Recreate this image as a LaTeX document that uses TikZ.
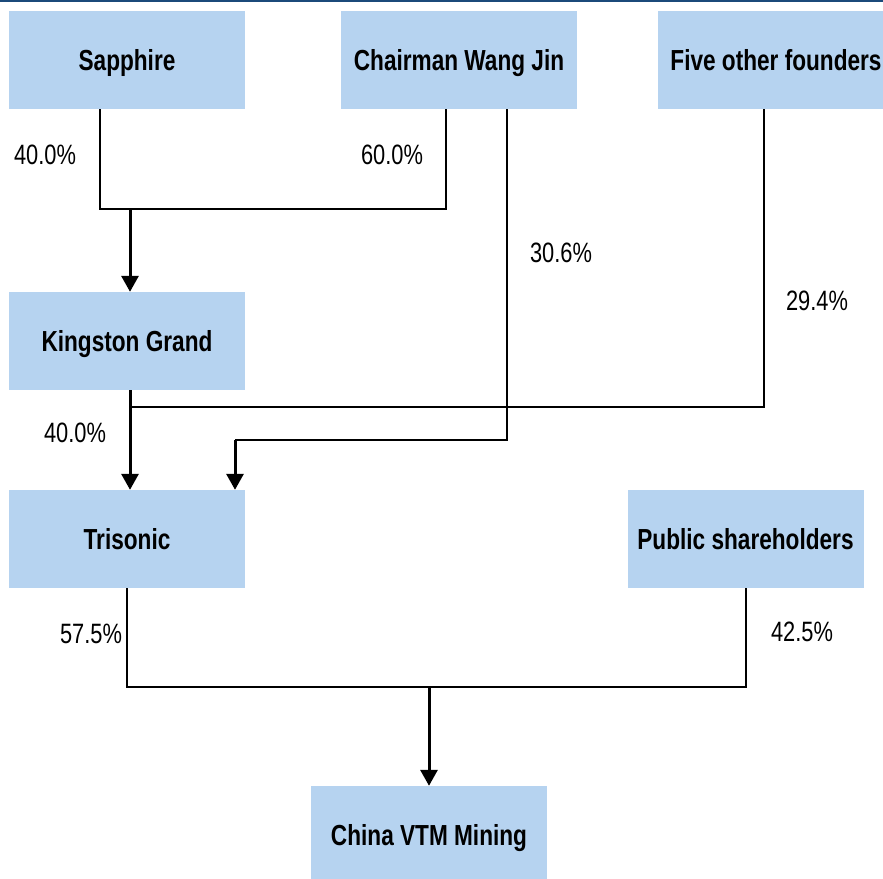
\documentclass[tikz,border=0pt]{standalone}
\usepackage{fontspec}
\setmainfont{Liberation Sans}[FakeStretch=0.78]
\usetikzlibrary{arrows.meta}
\definecolor{boxblue}{HTML}{B6D3F0}
\definecolor{rulenavy}{HTML}{1B4A7A}
\begin{document}
\begin{tikzpicture}[x=1pt,y=-1pt,
  entity/.style={fill=boxblue, draw=none, minimum width=236pt, minimum height=98pt,
    inner sep=0pt, text height=21pt, text depth=0pt,
    font=\fontsize{29}{34}\selectfont\bfseries},
  pct/.style={font=\fontsize{28}{33}\selectfont, inner sep=0pt},
  link/.style={draw=black, line width=2pt},
  feed/.style={draw=black, line width=3pt, -{Triangle[width=17pt,length=16pt]}}]
\useasboundingbox (0,0) rectangle (883,878);
% header rule
\fill[rulenavy] (0,0) rectangle (883,2);

% entities
\node[entity] (sap) at (127,60) {Sapphire};
\node[entity] (wang) at (459,60) {Chairman Wang Jin};
\node[entity] (five) at (776,60) {Five other founders};
\node[entity] (king) at (127,341) {Kingston Grand};
\node[entity] (tri) at (127,539) {Trisonic};
\node[entity] (pub) at (745.5,539) {Public shareholders};
\node[entity] (vtm) at (429,835) {China VTM Mining};

% Sapphire + Wang Jin -> Kingston Grand
\coordinate (sapj) at (100,209);
\coordinate (wangj) at (446,209);
\coordinate (kingin) at (130,209);
\draw[link] ([xshift=-27pt]sap.south) -- (sapj) -- (wangj) -- ([xshift=-13pt]wang.south);
\draw[feed] (kingin) -- (kingin |- king.north);

% Wang Jin -> Trisonic
\coordinate (wangt) at (507,440);
\coordinate (trit) at (235,440);
\draw[link] ([xshift=48pt]wang.south) -- (wangt) -- (trit);
\draw[feed] (trit) -- (trit |- tri.north);

% Five other founders -> Trisonic
\coordinate (fivet) at (764,407);
\coordinate (kingt) at (130,407);
\draw[link] ([xshift=-12pt]five.south) -- (fivet) -- (kingt);

% Kingston Grand -> Trisonic
\draw[feed] ([xshift=3pt]king.south) -- ([xshift=3pt]tri.north);

% Trisonic + Public -> China VTM Mining
\coordinate (trij) at (127,687);
\coordinate (pubj) at (745.5,687);
\coordinate (vtmin) at (429,687);
\draw[link] (tri.south) -- (trij) -- (pubj) -- (pub.south);
\draw[feed] (vtmin) -- (vtm.north);

% shareholdings
\node[pct] (p1) at (45,155) {40.0\%};
\node[pct] (p2) at (392,155) {60.0\%};
\node[pct] (p3) at (561,253) {30.6\%};
\node[pct] (p4) at (817,301) {29.4\%};
\node[pct] (p5) at (75,433) {40.0\%};
\node[pct] (p6) at (91,634) {57.5\%};
\node[pct] (p7) at (802,632) {42.5\%};
\end{tikzpicture}
\end{document}
